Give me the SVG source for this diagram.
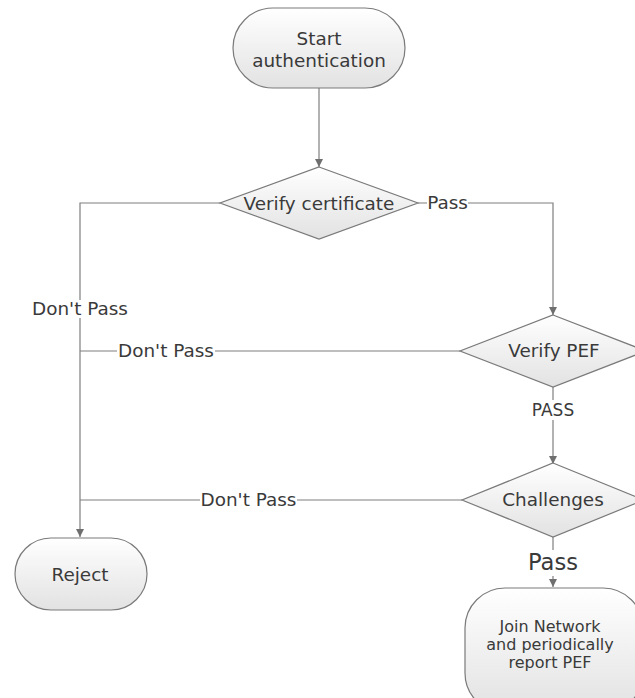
<svg xmlns="http://www.w3.org/2000/svg" width="635" height="698" viewBox="0 0 635 698">
<defs>
<linearGradient id="g" x1="0" y1="0" x2="0" y2="1">
<stop offset="0" stop-color="#ffffff"/>
<stop offset="1" stop-color="#e2e2e2"/>
</linearGradient>
<marker id="arr" markerWidth="10" markerHeight="10" refX="9" refY="5" orient="auto" markerUnits="userSpaceOnUse">
<path d="M1,1 L9,5 L1,9 Z" fill="#6f6f6f"/>
</marker>
<style>
.n{fill:url(#g);stroke:#7a7a7a;stroke-width:1.2}
.e{fill:none;stroke:#7f7f7f;stroke-width:1.2}
.t{font-family:"DejaVu Sans","Open Sans",sans-serif;fill:#3a3a3a;text-anchor:middle;font-size:18.4px}
.s{font-size:16px}
.bg{fill:#ffffff}
</style>
</defs>
<rect width="635" height="698" fill="#ffffff"/>
<g id="connectors">
<path class="e" d="M319,88 V167" marker-end="url(#arr)"/>
<path class="e" d="M418,203 H553 V315" marker-end="url(#arr)"/>
<path class="e" d="M220,203 H80 V537" marker-end="url(#arr)"/>
<path class="e" d="M460,351 H80"/>
<path class="e" d="M553,387 V464" marker-end="url(#arr)"/>
<path class="e" d="M462,500 H80"/>
<path class="e" d="M553,536 V587" marker-end="url(#arr)"/>
<rect class="bg" x="427" y="193" width="41" height="20"/>
<text class="t" x="447.5" y="209">Pass</text>
<rect class="bg" x="32" y="300" width="96" height="18"/>
<text class="t" x="80" y="315">Don't Pass</text>
<rect class="bg" x="117" y="341" width="98" height="20"/>
<text class="t" x="166" y="357">Don't Pass</text>
<rect class="bg" x="531" y="400" width="44" height="20"/>
<text class="t" x="553" y="416" style="font-size:17px">PASS</text>
<rect class="bg" x="200" y="490" width="97" height="20"/>
<text class="t" x="248.5" y="506">Don't Pass</text>
<rect class="bg" x="526" y="550" width="54" height="26"/>
<text class="t" x="553" y="570" style="font-size:22.6px">Pass</text>
</g>
<g id="start">
<rect class="n" x="233" y="8" width="172" height="80" rx="40"/>
<text class="t" x="319" y="45">Start</text>
<text class="t" x="319" y="67">authentication</text>
</g>
<g id="verify-cert">
<polygon class="n" points="319,167 418,203 319,239 220,203"/>
<text class="t" x="319" y="210">Verify certificate</text>
</g>
<g id="verify-pef">
<polygon class="n" points="553,315 646,351 553,387 460,351"/>
<text class="t" x="554" y="357">Verify PEF</text>
</g>
<g id="challenges">
<polygon class="n" points="553,463 644,500 553,537 462,500"/>
<text class="t" x="553" y="506">Challenges</text>
</g>
<g id="reject">
<rect class="n" x="15" y="538" width="132" height="72" rx="36"/>
<text class="t" x="80" y="581">Reject</text>
</g>
<g id="join">
<rect class="n" x="465" y="588" width="178" height="125" rx="40"/>
<text class="t s" x="550" y="632">Join Network</text>
<text class="t s" x="550" y="650">and periodically</text>
<text class="t s" x="550" y="668">report PEF</text>
</g>
</svg>
